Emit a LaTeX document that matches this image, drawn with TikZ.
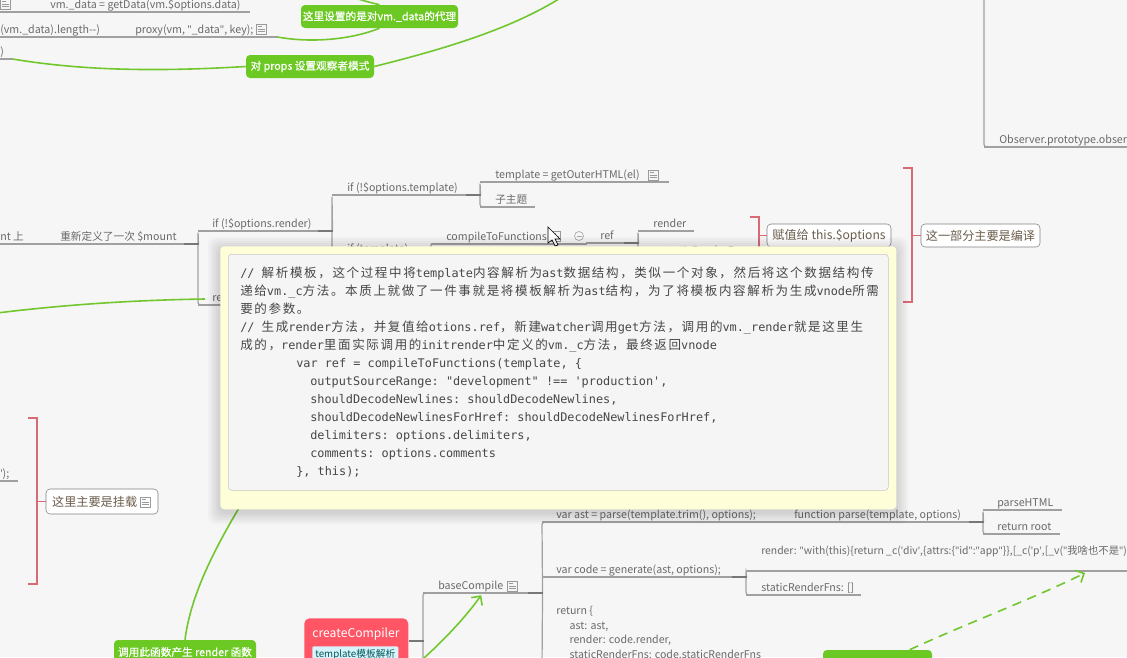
\documentclass[tikz,border=0pt]{standalone}
\usepackage{fontspec}
\setmainfont{Noto Sans CJK SC}
\setmonofont{DejaVu Sans Mono}
\newfontfamily\cjk[LetterSpace=13]{Noto Sans CJK SC}
\newfontfamily\latn{Noto Sans}
\newfontfamily\cjkbold[FakeBold=.5]{Noto Sans CJK SC}
\usetikzlibrary{arrows.meta}
\definecolor{canvas}{HTML}{F6F6F6}
\definecolor{linegray}{HTML}{A0A0A0}
\definecolor{stubgray}{HTML}{777777}
\definecolor{topictext}{HTML}{6A6A6A}
\definecolor{tagtext}{HTML}{6B5D4B}
\definecolor{relgreen}{HTML}{72C72F}
\definecolor{boxgreen}{HTML}{6CC924}
\definecolor{sumred}{HTML}{D96A75}
\definecolor{rootred}{HTML}{FF5564}
\definecolor{notepaper}{HTML}{FEFFD9}
\definecolor{notecode}{HTML}{F5F5F5}
\newdimen\pxu \pxu=.75pt
\newcommand{\tlabel}[3][14]{\makebox[#2\pxu][l]{\hspace*{#1\pxu}\vphantom{(}#3}}
\newcommand{\zh}[1]{{\cjk\fontsize{9.4}{13.5}\selectfont #1}}
\newcommand{\qq}{{\latn"}}
\newcommand{\ap}{{\latn'}}
\tikzset{
  topic/.style={anchor=south west,inner xsep=0pt,inner ysep=.8pt,text=topictext,font=\fontsize{8}{11}\selectfont},
  link/.style={draw=linegray,line width=.9pt,rounded corners=2pt},
  stub/.style={draw=stubgray,line width=1.1pt},
  relation/.style={draw=relgreen,line width=1.2pt},
  callout/.style={fill=boxgreen,text=white,rounded corners=3pt,inner sep=0pt,font=\cjkbold\fontsize{8}{10}\selectfont},
  summary/.style={draw=sumred,line width=.8pt},
  tagbox/.style={draw=gray,fill=white,rounded corners=3pt,inner sep=0pt,text=tagtext,font=\fontsize{9.1}{12}\selectfont},
  noteicon/.pic={
    \draw[gray!80,line width=.5pt] (0,-5) rectangle (10,5);
    \foreach \l/\w in {-2.5/4,0/7,2.5/7} \draw[gray!80,line width=.5pt] (1.8,\l) -- ++(\w,0);
  },
  foldmark/.pic={
    \draw[gray!70,line width=.5pt] (0,0) circle (4.5);
    \draw[gray!70,line width=.5pt] (-2.5,0) -- (2.5,0);
  }
}
\begin{document}
\begin{tikzpicture}[x=.75pt,y=-.75pt,>={Straight Barb[length=5pt]}]
\useasboundingbox (0,0) rectangle (1127,657);
\clip (0,0) rectangle (1127,657);
\fill[canvas] (0,0) rectangle (1127,657);
% upper left
\node[topic] (getdata) at (0,12) {\tlabel[50]{249}{vm.\_data = getData(vm.\$options.data)}};
\node[topic] (keyslen) at (0,37) {\tlabel[0]{125}{(vm.\_data).length{-}{-})}};
\node[topic] (proxykey) at (125,37) {\tlabel[10]{152}{proxy(vm, \qq\_data\qq, key);}};
\node[topic] (closing) at (0,59) {\tlabel[0]{12}{)}};
\pic at (0,4) {noteicon};
\pic at (256,29) {noteicon};
% mount branch
\node[topic] (mounton) at (-10,244) {\tlabel[10]{55}{nt 上}};
\node[topic] (redefine) at (45,244) {\tlabel[15]{153}{重新定义了一次 \$mount}};
\node[topic] (optrender) at (198,231) {\tlabel{134}{if (!\$options.render)}};
\node[topic] (dorender) at (198,305) {\tlabel{120}{render}};
\node[topic] (opttpl) at (332,195) {\tlabel[15]{148}{if (!\$options.template)}};
\node[topic] (iftpl) at (332,256) {\tlabel[15]{99}{if (template)}};
\node[topic] (outerhtml) at (480,182) {\tlabel[15]{188}{template = getOuterHTML(el)}};
\node[topic] (subtopic) at (480,207) {\tlabel[15]{54}{子主题}};
\node[topic] (compilefn) at (431,244) {\tlabel[15]{155}{compileToFunctions}};
\node[topic] (refvar) at (586,243) {\tlabel{52}{ref}};
\node[topic] (renderfn) at (638,231) {\tlabel[15]{55}{render}};
\node[topic] (staticfn) at (638,258) {\tlabel[27]{95}{staticRenderFns}};
\pic at (648,175) {noteicon};
\pic at (550,236) {noteicon};
\pic at (579,236) {foldmark};
\node[topic] (observer) at (984,147) {\tlabel[15]{180}{Observer.prototype.observe}};
\coordinate (observerup) at (984,-6);
% tags with summaries
\node[tagbox,minimum width=124*.75pt,minimum height=23*.75pt] (assign) at (829,235.5) {赋值给 this.\$options};
\node[tagbox,minimum width=119*.75pt,minimum height=23*.75pt] (compilepart) at (980.5,235.5) {这一部分主要是编译};
\node[tagbox,minimum width=112*.75pt,minimum height=25*.75pt] (mountpart) at (102,501.5) {\hspace*{-11pt}这里主要是挂载};
\pic at (140,502) {noteicon};
\node[topic] (mountend) at (-20,481) {\tlabel[20]{37}{\ap);}};
\draw[summary] (750,217) -- (759,217) -- (759,258) -- (750,258);
\draw[summary] (assign.west) -- ++(-8,0);
\draw[summary] (903,168) -- (912,168) -- (912,302) -- (903,302);
\draw[summary] (compilepart.west) -- ++(-9,0);
\draw[summary] (28,418) -- (37,418) -- (37,584) -- (28,584);
\draw[summary] (mountpart.west) -- ++(-9,0);
% compiler
\node[fill=rootred,text=white,rounded corners=4pt,minimum width=104*.75pt,minimum height=46*.75pt,anchor=north west,inner sep=0pt] (compiler) at (304,618) {};
\node[text=white,font=\fontsize{9.1}{12}\selectfont,inner sep=0pt] (compilername) at (356,634) {createCompiler};
\node[fill=cyan!15,text=teal!70!black,rounded corners=1pt,inner sep=0pt,minimum width=86*.75pt,minimum height=16*.75pt,anchor=north west,font=\fontsize{7.3}{10}\selectfont] (compilertag) at (312,646) {template模板解析};
\node[topic] (basecompile) at (423,593) {\tlabel[15]{119}{baseCompile}};
\pic at (507,586) {noteicon};
\coordinate (basedown) at (423,670);
\node[topic] (astvar) at (542,522) {\tlabel{223}{var ast = parse(template.trim(), options);}};
\node[topic] (parsefn) at (765,522) {\tlabel[29]{218}{function parse(template, options)}};
\node[topic] (parsehtml) at (983,510) {\tlabel{78}{parseHTML}};
\node[topic] (returnroot) at (983,534) {\tlabel{76}{return root}};
\node[topic] (codevar) at (542,577) {\tlabel{204}{var code = generate(ast, options);}};
\node[topic,inner ysep=10.5pt,font=\fontsize{7.78}{11}\selectfont] (renderstr) at (746,571) {\tlabel[15]{400}{render: \qq with(this)\{return \_c(\ap div\ap,\{attrs:\{\qq id\qq:\qq app\qq\}\},[\_c(\ap p\ap,[\_v(\qq 我啥也不是\qq)}};
\node[topic] (staticarr) at (746,595) {\tlabel[15]{114}{staticRenderFns: []}};
\node[anchor=north west,inner sep=0pt,text=topictext,align=left,font=\fontsize{7.95}{10.9}\selectfont] (returnobj) at (556,606) {return \{\\\hspace*{10pt}ast: ast,\\\hspace*{10pt}render: code.render,\\\hspace*{10pt}staticRenderFns: code.staticRenderFns};
\coordinate (astdown) at (542,670);
% branches
\foreach \n in {getdata,proxykey,keyslen,closing,mounton,redefine,optrender,dorender,outerhtml,subtopic,compilefn,refvar,renderfn,observer,mountend,parsehtml,returnroot,astvar,parsefn,staticarr,renderstr,codevar,basecompile,opttpl,iftpl,staticfn}
  \draw[link,rounded corners=0pt] (\n.south west) -- (\n.south east);
\draw[link] (redefine.south east) -- (optrender.south west) -- (dorender.south west) -- (dorender.south east);
\draw[link] (optrender.south east) -- (opttpl.south west) -- (iftpl.south west) -- (iftpl.south east);
\draw[link] (opttpl.south east) -- (outerhtml.south west) -- (subtopic.south west) -- (subtopic.south east);
\draw[link] (compilefn.south west) -- (iftpl.south east |- 0,268);
\draw[link] (refvar.south east) -- (renderfn.south west) -- (staticfn.south west) -- (staticfn.south east);
\draw[link] (observerup) -- (observer.south west) -- (observer.south east);
\draw[link] (compiler.east |- 0,641) -- (basecompile.south west |- 0,641);
\draw[link] (basedown) -- (basecompile.south west) -- (basecompile.south east);
\draw[link] (basecompile.south east) -- (astvar.south west) -- (astvar.south east);
\draw[link] (basecompile.south east) -- (astdown);
\draw[link] (parsefn.south east) -- (parsehtml.south west) -- (returnroot.south west) -- (returnroot.south east);
\draw[link] (codevar.south east) -- (renderstr.south west) -- (staticarr.south west) -- (staticarr.south east);
\foreach \n in {redefine,optrender,opttpl,refvar,basecompile,parsefn,codevar}
  \draw[stub] (\n.south east) -- ++(-15,0);
\draw[stub] (compiler.east |- 0,641) -- ++(15,0);
% relations
\node[callout,minimum width=157*.75pt,minimum height=23*.75pt] (dataproxy) at (379.5,16.5) {这里设置的是对vm.\_data的代理};
\node[callout,minimum width=128*.75pt,minimum height=23*.75pt] (propsobs) at (310,66.5) {对 props 设置观察者模式};
\node[callout,minimum width=142*.75pt,minimum height=24*.75pt] (hookrender) at (185,652) {调用此函数产生 render 函数};
\node[callout,minimum width=109*.75pt,minimum height=24*.75pt] (callee) at (877.5,662) {};
\coordinate (proxyup) at (350,-4);
\coordinate (propsup) at (562,-3);
\coordinate (renderfrom) at (-3,313);
\coordinate (renderhook) at (205,299);
\coordinate (hookup) at (262,470);
\coordinate (compilerout) at (408,672);
\coordinate (renderhit) at (1085,573);
\draw[relation] (proxykey.south east) .. controls (310,43) and (350,40) .. (dataproxy.south);
\draw[relation] (dataproxy.north) .. controls (372,3) and (360,0) .. (proxyup);
\draw[relation] (closing.south east) .. controls (90,72) and (170,71) .. (propsobs.west);
\draw[relation] (propsobs.east) .. controls (440,50) and (510,30) .. (propsup);
\draw[relation] (renderfrom) .. controls (70,304) and (140,300) .. (renderhook);
\draw[relation] (hookrender.north) .. controls (192,585) and (225,530) .. (hookup);
\draw[relation,->,shorten >=2pt] (compilerout) .. controls (440,645) and (465,618) .. (basecompile.south);
\draw[relation,->,dashed,dash pattern=on 7pt off 5pt] ([xshift=-17pt]callee.north east) .. controls (970,622) and (1030,600) .. (renderhit);
% cursor
\fill[white,draw=black,line width=.5pt] (548,227) -- (548,243) -- (552,240) -- (555,246) -- (558,245) -- (555,239) -- (560,239) -- cycle;
% note
\foreach \s in {12,10,8,6,4,2}
  \fill[black,opacity=.022,rounded corners=6pt] (220-\s,246-\s+3) rectangle (896+\s,509+\s+3);
\node[fill=notepaper,rounded corners=3pt,inner sep=0pt,minimum width=676*.75pt,minimum height=263*.75pt,anchor=north west] (notepad) at (220,246) {};
\node[draw=gray!45,fill=notecode,rounded corners=2.5pt,inner sep=0pt,minimum width=660*.75pt,minimum height=236*.75pt,anchor=north west] (notecodebox) at (228,254) {};
\node[anchor=north west,inner sep=0pt,text=black!72,align=left,font=\ttfamily\fontsize{8.9}{13.5}\selectfont] (notetext) at (240,267) {%
// \zh{解析模板，这个过程中将}template\zh{内容解析为}ast\zh{数据结构，类似一个对象，然后将这个数据结构传}\\
\zh{递给}vm.\_c\zh{方法。本质上就做了一件事就是将模板解析为}ast\zh{结构，为了将模板内容解析为生成}vnode\zh{所需}\\
\zh{要的参数。}\\
// \zh{生成}render\zh{方法，并复值给}otions.ref\zh{，新建}watcher\zh{调用}get\zh{方法，调用的}vm.\_render\zh{就是这里生}\\
\zh{成的，}render\zh{里面实际调用的}initrender\zh{中定义的}vm.\_c\zh{方法，最终返回}vnode\\
\hspace*{56\pxu}var ref = compileToFunctions(template, \{\\
\hspace*{70\pxu}outputSourceRange: "development" !== 'production',\\
\hspace*{70\pxu}shouldDecodeNewlines: shouldDecodeNewlines,\\
\hspace*{70\pxu}shouldDecodeNewlinesForHref: shouldDecodeNewlinesForHref,\\
\hspace*{70\pxu}delimiters: options.delimiters,\\
\hspace*{70\pxu}comments: options.comments\\
\hspace*{56\pxu}\}, this);};
\end{tikzpicture}
\end{document}
